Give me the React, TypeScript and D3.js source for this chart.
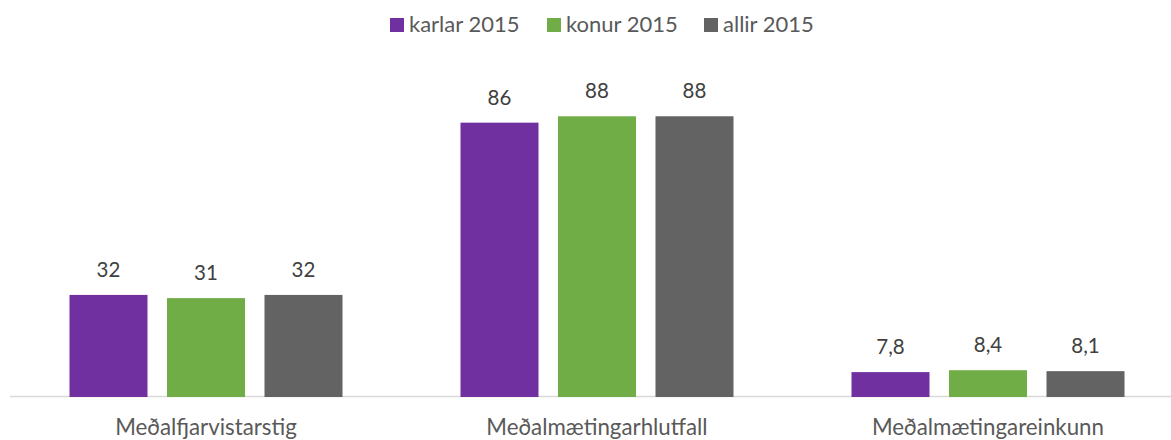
import React from "react";
import * as d3 from "d3";

const categories = ["Meðalfjarvistarstig", "Meðalmætingarhlutfall", "Meðalmætingareinkunn"];
const seriesNames = ["karlar 2015", "konur 2015", "allir 2015"];
const karlar = [32, 86, 7.8];
const konur = [31, 88, 8.4];
const allir = [32, 88, 8.1];
const seriesValues = [karlar, konur, allir];
const colors = ["#7030A0", "#70AD47", "#636363"];

const W = 1171;
const H = 440;
const FONT = "Lato, 'Open Sans', sans-serif";

export default function App() {
  const x0 = d3.scaleBand<string>().domain(categories).range([10.5, 1183.5]).paddingInner(0).paddingOuter(0);
  const groupW = 273;
  const x1 = d3.scaleBand<string>().domain(seriesNames).range([0, groupW]).paddingInner(0.2).paddingOuter(0);
  const y = d3.scaleLinear().domain([0, 100]).range([397, 78]);
  const fmt = (v: number) => String(v).replace(".", ",");

  const legendX = [390, 547, 704];

  return (
    <div style={{ position: "absolute", left: 0, top: 0 }}>
      <svg width={W} height={H} style={{ display: "block", background: "#fff" }}>
        <g>
          {seriesNames.map((s, i) => (
            <g key={s}>
              <rect x={legendX[i]} y={18} width={14} height={14} fill={colors[i]} />
              <text x={legendX[i] + 19} y={32} fontFamily={FONT} fontSize={22} fill="#595959">
                {s}
              </text>
            </g>
          ))}
        </g>
        <line x1={10} x2={1183} y1={396.5} y2={396.5} stroke="#D9D9D9" strokeWidth={1.3} />
        {categories.map((c, ci) => {
          const gx = (x0(c) as number) + (x0.bandwidth() - groupW) / 2;
          return (
            <g key={c}>
              {seriesNames.map((s, si) => {
                const v = seriesValues[si][ci];
                const bx = gx + (x1(s) as number);
                return (
                  <g key={s}>
                    <rect x={bx} y={y(v)} width={x1.bandwidth()} height={y(0) - y(v)} fill={colors[si]} />
                    <text
                      x={bx + x1.bandwidth() / 2}
                      y={y(v) - 18}
                      textAnchor="middle"
                      fontFamily={FONT}
                      fontSize={20.5}
                      fill="#404040"
                    >
                      {fmt(v)}
                    </text>
                  </g>
                );
              })}
              <text
                x={(x0(c) as number) + x0.bandwidth() / 2}
                y={435}
                textAnchor="middle"
                fontFamily={FONT}
                fontSize={22.3}
                fill="#595959"
              >
                {c}
              </text>
            </g>
          );
        })}
      </svg>
    </div>
  );
}
